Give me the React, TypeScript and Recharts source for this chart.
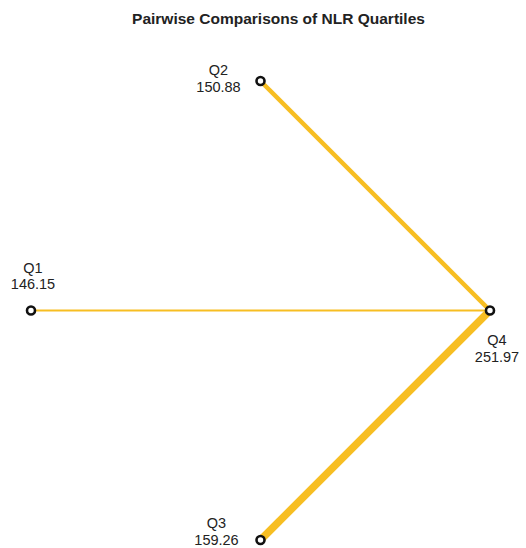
import React from 'react';
import { ScatterChart, Scatter, XAxis, YAxis } from 'recharts';

// ---- data ----
const nodeNames = ['Q1', 'Q2', 'Q3', 'Q4'];
const nodeValues = [146.15, 150.88, 159.26, 251.97];
const nodeAngles = [180, 90, 270, 0]; // circular layout angle (degrees)

const edgeSources = ['Q1', 'Q2', 'Q3'];
const edgeTargets = ['Q4', 'Q4', 'Q4'];
const edgeWeights = [2, 4.5, 7.5];

const title = 'Pairwise Comparisons of NLR Quartiles';

// ---- styles ----
const EDGE_COLOR = '#F7BE22';
const TEXT_COLOR = '#222222';
const FONT = '"Liberation Sans", Arial, Helvetica, sans-serif';
const labelOffsets: Record<string, { dx: number; dy1: number; dy2: number }> = {
  Q1: { dx: 2, dy1: -38, dy2: -22 },
  Q2: { dx: -42, dy1: -6, dy2: 11 },
  Q3: { dx: -44, dy1: -12, dy2: 5 },
  Q4: { dx: 7, dy1: 34, dy2: 51 },
};

const nodes = nodeNames.map((name, i) => ({
  name,
  value: nodeValues[i],
  x: Math.cos((nodeAngles[i] * Math.PI) / 180),
  y: Math.sin((nodeAngles[i] * Math.PI) / 180),
}));
const nodeByName = (n: string) => nodes.find((d) => d.name === n)!;

const edges = edgeSources.map((s, i) => ({
  key: `${s}-${edgeTargets[i]}`,
  weight: edgeWeights[i],
  points: [nodeByName(s), nodeByName(edgeTargets[i])],
}));

const NodeShape = (props: any) => {
  const { cx, cy, payload } = props;
  const off = labelOffsets[payload.name];
  return (
    <g>
      <circle cx={cx} cy={cy} r={4} fill="#ffffff" stroke="#111111" strokeWidth={2.6} />
      <text
        x={cx + off.dx}
        y={cy + off.dy1}
        textAnchor="middle"
        fontSize={14.5}
        fontFamily={FONT}
        fill={TEXT_COLOR}
      >
        {payload.name}
      </text>
      <text
        x={cx + off.dx}
        y={cy + off.dy2}
        textAnchor="middle"
        fontSize={14.5}
        fontFamily={FONT}
        fill={TEXT_COLOR}
      >
        {payload.value.toFixed(2)}
      </text>
    </g>
  );
};

const EmptyShape = () => <g />;

export default function App() {
  return (
    <div style={{ position: 'absolute', left: 0, top: 0, width: 526, height: 548, background: '#fff' }}>
      <div
        style={{
          position: 'absolute',
          left: 31,
          top: 10,
          width: 495,
          textAlign: 'center',
          fontFamily: FONT,
          fontSize: 15.5,
          fontWeight: 'bold',
          lineHeight: '18px',
          color: TEXT_COLOR,
        }}
      >
        {title}
      </div>
      <ScatterChart width={526} height={548} margin={{ top: 81, right: 36, bottom: 8, left: 31 }}>
        <XAxis type="number" dataKey="x" domain={[-1, 1]} hide />
        <YAxis type="number" dataKey="y" domain={[-1, 1]} hide />
        {edges.map((e) => (
          <Scatter
            key={e.key}
            data={e.points}
            line={{ stroke: EDGE_COLOR, strokeWidth: e.weight }}
            shape={EmptyShape}
            isAnimationActive={false}
          />
        ))}
        <Scatter data={nodes} shape={NodeShape} isAnimationActive={false} />
      </ScatterChart>
    </div>
  );
}
